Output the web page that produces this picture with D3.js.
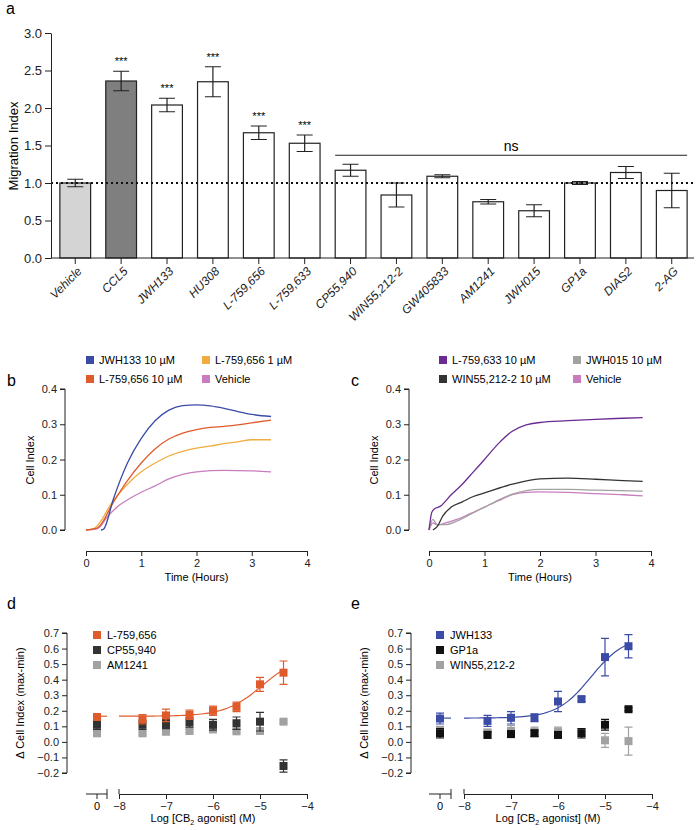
<!DOCTYPE html>
<html><head><meta charset="utf-8">
<script src="https://cdn.jsdelivr.net/npm/d3@7"></script>
<style>body{margin:0;background:#fff}svg{font-family:"Liberation Sans",Arial,sans-serif}</style>
</head><body><svg id="c" width="700" height="830"></svg>
<script>
// ---- panel a data
const aCats = ["Vehicle","CCL5","JWH133","HU308","L-759,656","L-759,633","CP55,940","WIN55,212-2","GW405833","AM1241","JWH015","GP1a","DIAS2","2-AG"];
const aVals = [1.0,2.36,2.04,2.35,1.67,1.53,1.17,0.84,1.09,0.75,0.63,1.0,1.14,0.9];
const aErrs = [0.05,0.13,0.09,0.2,0.09,0.11,0.08,0.16,0.02,0.03,0.08,0.02,0.08,0.23];
const aStars = [0,1,1,1,1,1,0,0,0,0,0,0,0,0];
const aTicks = [0,0.5,1,1.5,2,2.5,3];

// ---- panel b / c kinetic traces [hours, cell index]
const bJWH133 = [[0.27,0],[0.32,0.003],[0.5,0.09],[0.75,0.19],[1,0.26],[1.25,0.31],[1.5,0.34],[1.75,0.353],[2,0.355],[2.25,0.352],[2.5,0.345],[2.75,0.336],[3,0.328],[3.35,0.322]];
const bL656_10 = [[0,0],[0.2,0.005],[0.5,0.08],[0.75,0.14],[1,0.19],[1.25,0.23],[1.5,0.258],[1.75,0.275],[2,0.285],[2.25,0.291],[2.5,0.294],[2.75,0.298],[3,0.304],[3.35,0.312]];
const bL656_1 = [[0,0],[0.15,0.005],[0.5,0.085],[0.75,0.13],[1,0.165],[1.25,0.19],[1.5,0.21],[1.75,0.223],[2,0.232],[2.25,0.238],[2.5,0.245],[2.75,0.25],[3,0.256],[3.35,0.256]];
const bVehicle = [[0,0],[0.2,0.003],[0.4,0.04],[0.6,0.07],[0.8,0.09],[1,0.107],[1.25,0.125],[1.5,0.145],[1.75,0.158],[2,0.165],[2.5,0.169],[3,0.168],[3.35,0.165]];
const cL633 = [[0,0],[0.05,0.05],[0.1,0.06],[0.2,0.067],[0.4,0.1],[0.6,0.13],[0.8,0.165],[1,0.2],[1.25,0.245],[1.5,0.28],[1.75,0.298],[2,0.305],[2.5,0.31],[3,0.314],[3.5,0.317],[3.85,0.319]];
const cWIN = [[0.07,0],[0.15,0.01],[0.25,0.04],[0.4,0.065],[0.6,0.08],[0.8,0.095],[1,0.105],[1.5,0.13],[2,0.145],[2.5,0.147],[3,0.144],[3.5,0.14],[3.85,0.138]];
const cJWH015 = [[0,0],[0.07,0.03],[0.15,0.015],[0.3,0.015],[0.5,0.025],[0.75,0.045],[1,0.065],[1.25,0.085],[1.5,0.102],[1.75,0.112],[2,0.115],[2.5,0.115],[3,0.113],[3.85,0.11]];
const cVehicle = [[0,0],[0.07,0.02],[0.15,0.015],[0.3,0.02],[0.5,0.03],[0.75,0.047],[1,0.065],[1.25,0.083],[1.5,0.1],[1.75,0.107],[2,0.108],[2.5,0.107],[3,0.103],[3.5,0.1],[3.85,0.097]];

// ---- panel d / e dose response (first point = vehicle, plotted at 0)
const doses = [0,-7.5,-7,-6.5,-6,-5.5,-5,-4.5];
const dL656 = [0.16,0.145,0.17,0.175,0.2,0.225,0.37,0.445];
const dL656Err = [0.02,0.03,0.04,0.03,0.03,0.03,0.045,0.075];
const dCP = [0.11,0.11,0.115,0.125,0.11,0.12,0.13,-0.155];
const dCPErr = [0.03,0.03,0.03,0.03,0.035,0.04,0.06,0.04];
const dAM = [0.055,0.055,0.065,0.07,0.08,0.068,0.07,0.13];
const dAMErr = [0.01,0.01,0.01,0.01,0.01,0.01,0.01,0.01];
const eJWH = [0.15,0.135,0.155,0.155,0.26,0.275,0.545,0.615];
const eJWHErr = [0.035,0.035,0.04,0.025,0.065,0.015,0.12,0.075];
const eGP = [0.055,0.045,0.05,0.055,0.045,0.055,0.11,0.21];
const eGPErr = [0.03,0.02,0.02,0.02,0.02,0.03,0.035,0.01];
const eWIN = [0.07,0.06,0.07,0.065,0.065,0.06,0.01,0.005];
const eWINErr = [0.03,0.02,0.035,0.03,0.03,0.025,0.045,0.09];
const dFit = {bottom:0.165, top:0.56, ec50:-4.95, hill:1.1};
const eFit = {bottom:0.153, top:0.68, ec50:-5.3, hill:1.2};

const svg = d3.select("#c");
const axC = "#222";
function style(g, fs){
  g.selectAll("path,line").attr("stroke", axC);
  g.selectAll("text").attr("font-size", fs).attr("fill", "#222");
}
function panelLabel(t,x,y){ svg.append("text").attr("x",x).attr("y",y).attr("font-size",16).text(t); }

// ===== panel a
panelLabel("a",6,14);
{
  const x = d3.scaleBand().domain(aCats).range([53,694]).paddingInner(0.33).paddingOuter(0.15);
  const y = d3.scaleLinear().domain([0,3]).range([258,33]);
  const g = svg.append("g");
  g.selectAll("rect").data(aCats).join("rect")
    .attr("x", d=>x(d)).attr("width", x.bandwidth())
    .attr("y", (d,i)=>y(aVals[i])).attr("height",(d,i)=>y(0)-y(aVals[i]))
    .attr("fill",(d,i)=>i===0?"#d4d4d4":i===1?"#7f7f7f":"#fff")
    .attr("stroke","#222").attr("stroke-width",1.2);
  aCats.forEach((c,i)=>{
    const cx = x(c)+x.bandwidth()/2, w=8;
    const lo=y(aVals[i]-aErrs[i]), hi=y(aVals[i]+aErrs[i]);
    g.append("path").attr("d",`M${cx},${lo}V${hi}M${cx-w},${lo}H${cx+w}M${cx-w},${hi}H${cx+w}`).attr("stroke","#222").attr("fill","none").attr("stroke-width",1.2);
    if(aStars[i]) g.append("text").attr("x",cx).attr("y",hi-6).attr("text-anchor","middle").attr("font-size",11).text("***");
  });
  g.append("line").attr("x1",51).attr("x2",694).attr("y1",y(1)).attr("y2",y(1)).attr("stroke","#111").attr("stroke-width",2).attr("stroke-dasharray","2,3");
  const ns0 = x("CP55,940"), ns1 = x("2-AG")+x.bandwidth();
  g.append("line").attr("x1",ns0).attr("x2",ns1).attr("y1",y(1.37)).attr("y2",y(1.37)).attr("stroke","#222");
  g.append("text").attr("x",(ns0+ns1)/2).attr("y",y(1.43)).attr("text-anchor","middle").attr("font-size",14).text("ns");
  const ya = svg.append("g").attr("transform","translate(51,0)").call(d3.axisLeft(y).tickValues(aTicks).tickFormat(d3.format(".1f")).tickSizeOuter(0));
  style(ya,13);
  const xa = svg.append("g").attr("transform",`translate(0,258)`).call(d3.axisBottom(x).tickSizeOuter(0));
  xa.select(".domain").attr("d","M51,0H694");
  style(xa,12);
  xa.selectAll("text").attr("transform","rotate(-45)").attr("text-anchor","end").attr("dx","-0.4em").attr("dy","0.5em").attr("font-style","italic");
  svg.append("text").attr("transform","translate(18,146) rotate(-90)").attr("text-anchor","middle").attr("font-size",13).text("Migration Index");
}

// ===== panels b, c
function kinetic(lbl, ox, xr, series, legend){
  panelLabel(lbl, ox-58, 386);
  const x = d3.scaleLinear().domain([0,4]).range(xr);
  const y = d3.scaleLinear().domain([0,0.4]).range([530,389]);
  const line = d3.line().x(d=>x(d[0])).y(d=>y(d[1])).curve(d3.curveMonotoneX);
  series.forEach(s=>svg.append("path").datum(s.data).attr("d",line).attr("fill","none").attr("stroke",s.color).attr("stroke-width",1.3));
  const ya = svg.append("g").attr("transform",`translate(${ox},0)`).call(d3.axisLeft(y).ticks(4).tickFormat(d3.format(".1f")).tickSize(5).tickSizeOuter(0));
  ya.select(".domain").attr("d","M-5,389H0V530H-5");
  style(ya,11);
  const xa = svg.append("g").attr("transform","translate(0,551)").call(d3.axisBottom(x).ticks(4).tickSize(5).tickSizeOuter(0));
  style(xa,11);
  svg.append("text").attr("x",(xr[0]+xr[1])/2).attr("y",581).attr("text-anchor","middle").attr("font-size",11).text("Time (Hours)");
  svg.append("text").attr("transform",`translate(${ox-31},460) rotate(-90)`).attr("text-anchor","middle").attr("font-size",11).text("Cell Index");
  legend.forEach((s,i)=>{
    const lx = s.col, ly = 360 + s.row*19;
    svg.append("rect").attr("x",lx-4).attr("y",ly-4).attr("width",8).attr("height",8).attr("fill",s.color);
    svg.append("text").attr("x",lx+9).attr("y",ly+4).attr("font-size",11).text(s.name);
  });
}
const cBlue="#3c4ca6", cOr="#e05b2c", cYel="#f0ad3e", cPink="#c97cbe", cPur="#6a2c92", cDk="#333", cGr="#a2a2a2";
kinetic("b",65,[86,307],
  [{data:bVehicle,color:cPink},{data:bL656_1,color:cYel},{data:bL656_10,color:cOr},{data:bJWH133,color:cBlue}],
  [{name:"JWH133 10 µM",color:cBlue,col:90,row:0},{name:"L-759,656 10 µM",color:cOr,col:90,row:1},
   {name:"L-759,656 1 µM",color:cYel,col:206,row:0},{name:"Vehicle",color:cPink,col:206,row:1}]);
kinetic("c",409,[429,651],
  [{data:cVehicle,color:cPink},{data:cJWH015,color:cGr},{data:cWIN,color:cDk},{data:cL633,color:cPur}],
  [{name:"L-759,633 10 µM",color:cPur,col:443,row:0},{name:"WIN55,212-2 10 µM",color:cDk,col:443,row:1},
   {name:"JWH015 10 µM",color:cGr,col:577,row:0},{name:"Vehicle",color:cPink,col:577,row:1}]);

// ===== panels d, e
function dose(lbl, ox, x0, brk, xr, series, fit){
  panelLabel(lbl, ox-60, 609);
  const y = d3.scaleLinear().domain([-0.2,0.7]).range([773,633]);
  const xl = d3.scaleLinear().domain([-8,-4]).range(xr);
  const px = v => v===0 ? x0 : xl(v);
  const f = v => fit.bottom + (fit.top-fit.bottom)/(1+Math.pow(10,(fit.ec50-v)*fit.hill));
  const fc = series[0].color;
  const fitPts = d3.range(-8,-4.49,0.05);
  svg.append("path").datum(fitPts).attr("d",d3.line().x(d=>xl(d)).y(d=>y(f(d)))).attr("fill","none").attr("stroke",fc).attr("stroke-width",1.2);
  svg.append("line").attr("x1",x0).attr("x2",brk[1]).attr("y1",y(fit.bottom)).attr("y2",y(fit.bottom)).attr("stroke",fc).attr("stroke-width",1.2);
  series.slice().reverse().forEach(s=>{
    s.vals.forEach((v,i)=>{
      const cx=px(doses[i]), lo=y(v-s.err[i]), hi=y(v+s.err[i]);
      svg.append("path").attr("d",`M${cx},${lo}V${hi}M${cx-4},${lo}H${cx+4}M${cx-4},${hi}H${cx+4}`).attr("stroke",s.color).attr("stroke-width",1.2).attr("fill","none");
      svg.append("rect").attr("x",cx-4).attr("y",y(v)-4).attr("width",8).attr("height",8).attr("fill",s.color);
    });
  });
  const ya = svg.append("g").attr("transform",`translate(${ox},0)`).call(d3.axisLeft(y).ticks(9).tickFormat(d3.format(".1f")).tickSize(5).tickSizeOuter(0));
  ya.select(".domain").attr("d","M-5,633H0V773H-5");
  style(ya,11);
  const xa = svg.append("g").attr("transform","translate(0,794)").call(d3.axisBottom(xl).ticks(4).tickSize(5).tickSizeOuter(0));
  style(xa,11);
  const g0 = svg.append("g").attr("transform","translate(0,794)");
  g0.append("path").attr("d",`M${brk[0]},0H${brk[1]}M${brk[1]},-5V5M${x0},0V5`).attr("stroke",axC);
  g0.append("path").attr("d",`M${xr[0]},-5V0`).attr("stroke",axC);
  g0.append("text").attr("x",x0).attr("y",16).attr("text-anchor","middle").attr("font-size",11).text("0");
  const t = svg.append("text").attr("x",(xr[0]+xr[1])/2-10).attr("y",822).attr("text-anchor","middle").attr("font-size",11);
  t.append("tspan").text("Log [CB");
  t.append("tspan").attr("font-size",7).attr("dy",3).text("2");
  t.append("tspan").attr("dy",-3).text(" agonist] (M)");
  svg.append("text").attr("transform",`translate(${ox-43},703) rotate(-90)`).attr("text-anchor","middle").attr("font-size",11).text("Δ Cell Index (max-min)");
  series.forEach((s,i)=>{
    const ly = 635 + i*15;
    svg.append("rect").attr("x",x0-4).attr("y",ly-4).attr("width",8).attr("height",8).attr("fill",s.color);
    svg.append("text").attr("x",x0+10).attr("y",ly+4).attr("font-size",11).text(s.name);
  });
}
dose("d",67,97,[86,107],[119,307],
  [{name:"L-759,656",vals:dL656,err:dL656Err,color:cOr},{name:"CP55,940",vals:dCP,err:dCPErr,color:cDk},{name:"AM1241",vals:dAM,err:dAMErr,color:cGr}],dFit);
dose("e",411,440,[429,451],[464,652],
  [{name:"JWH133",vals:eJWH,err:eJWHErr,color:cBlue},{name:"GP1a",vals:eGP,err:eGPErr,color:"#111"},{name:"WIN55,212-2",vals:eWIN,err:eWINErr,color:cGr}],eFit);
</script></body></html>
